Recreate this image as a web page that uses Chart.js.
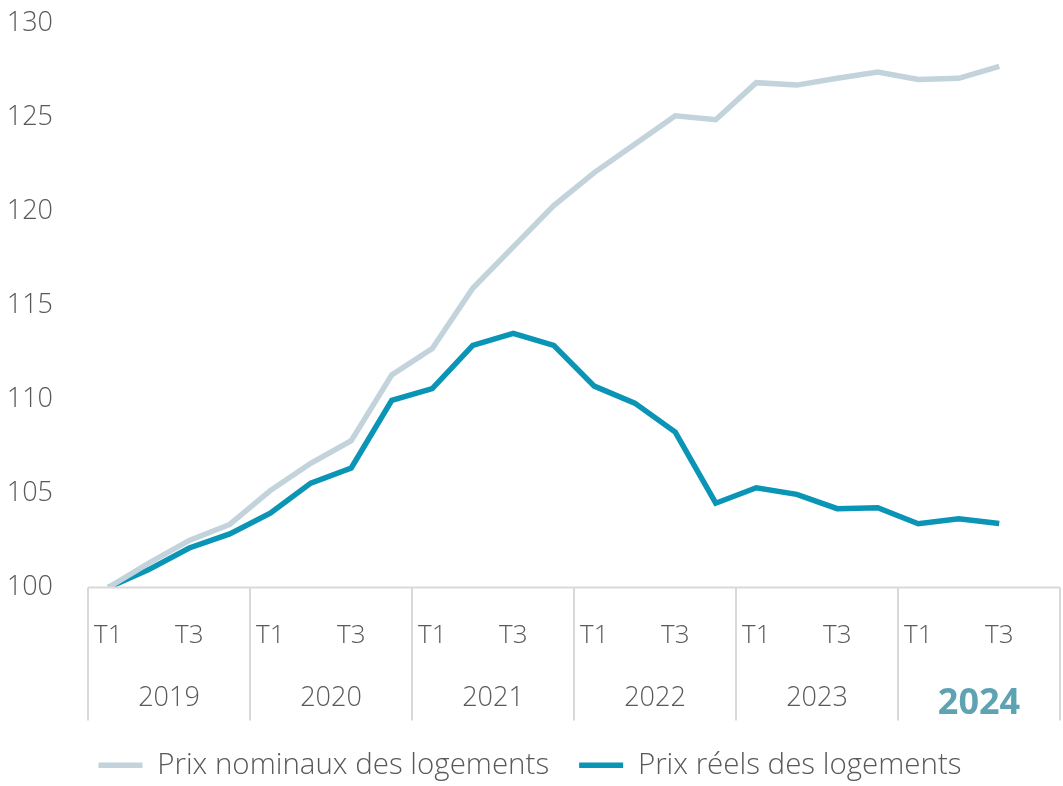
<!DOCTYPE html>
<html>
<head>
<meta charset="utf-8">
<script src="https://cdn.jsdelivr.net/npm/chart.js@4"></script>
<style>
  html, body { margin: 0; padding: 0; background: #fff; }
  #wrap { width: 1063px; height: 786px; }
</style>
</head>
<body>
<div id="wrap"><canvas id="chart"></canvas></div>
<script>
const quarters = ["T1","T2","T3","T4","T1","T2","T3","T4","T1","T2","T3","T4",
                  "T1","T2","T3","T4","T1","T2","T3","T4","T1","T2","T3","T4"];
const years = ["2019","2020","2021","2022","2023","2024"];
const nominal = [100, 101.3, 102.5, 103.35, 105.15, 106.6, 107.8, 111.3,
                 112.7, 115.9, 118.1, 120.3, 122.05, 123.55, 125.07, 124.86,
                 126.83, 126.7, 127.06, 127.4, 127.0, 127.06, 127.7, null];
const reel = [100, 100.95, 102.1, 102.85, 103.95, 105.55, 106.35, 109.95,
              110.57, 112.87, 113.5, 112.87, 110.7, 109.8, 108.26, 104.48,
              105.3, 104.95, 104.19, 104.24, 103.39, 103.65, 103.4, null];
const yTicks = [100, 105, 110, 115, 120, 125, 130];

const grey = "#595959";
const fam = "'Open Sans', sans-serif";

// vertical separators between the year groups + axis line
const separators = {
  id: "separators",
  afterDraw(chart) {
    const x = chart.scales.x, x2 = chart.scales.x2;
    const ctx = chart.ctx;
    const n = years.length;
    ctx.save();
    ctx.strokeStyle = "#d9d9d9";
    ctx.lineWidth = 2;
    ctx.beginPath();
    for (let k = 0; k <= n; k++) {
      const px = Math.round(x.left + k * (x.right - x.left) / n);
      ctx.moveTo(px, x.top);
      ctx.lineTo(px, x2.bottom);
    }
    ctx.moveTo(x.left, x.top);
    ctx.lineTo(x.right, x.top);
    ctx.stroke();
    ctx.restore();
  }
};

new Chart(document.getElementById("chart"), {
  type: "line",
  data: {
    labels: quarters,
    datasets: [
      { label: "Prix nominaux des logements", data: nominal,
        borderColor: "#c3d3dc", backgroundColor: "#c3d3dc",
        borderWidth: 5.5, pointRadius: 0, tension: 0 },
      { label: "Prix réels des logements", data: reel,
        borderColor: "#0a94b5", backgroundColor: "#0a94b5",
        borderWidth: 5.5, pointRadius: 0, tension: 0 }
    ]
  },
  options: {
    responsive: true,
    maintainAspectRatio: false,
    animation: false,
    layout: { padding: { top: 23, right: 3, left: 0, bottom: -4 } },
    plugins: {
      tooltip: { enabled: false },
      legend: {
        position: "bottom",
        labels: {
          usePointStyle: true,
          pointStyle: "line",
          pointStyleWidth: 44,
          color: grey,
          font: { family: fam, size: 29.5, weight: "300" },
          padding: 30
        }
      }
    },
    scales: {
      x: {
        offset: true,
        grid: { display: false, drawTicks: false },
        border: { display: false },
        ticks: {
          autoSkip: false,
          maxRotation: 0,
          padding: 32,
          color: grey,
          font: { family: fam, size: 26, weight: "300" },
          callback: (v, i) => (i % 4 === 0 || i % 4 === 2) ? quarters[i] : null
        },
        afterFit: s => { s.paddingLeft = 0; s.paddingRight = 0; s.height = 95; }
      },
      x2: {
        type: "category",
        labels: years,
        position: "bottom",
        offset: true,
        grid: { display: false, drawTicks: false },
        border: { display: false },
        ticks: {
          padding: 0,
          maxRotation: 0,
          color: ctx => ctx.index === years.length - 1 ? "#5fa3b3" : grey,
          font: ctx => ctx.index === years.length - 1
            ? { family: fam, size: 36, weight: "bold" }
            : { family: fam, size: 27, weight: "300" }
        },
        afterFit: s => { s.paddingLeft = 0; s.paddingRight = 0; s.height = 38; }
      },
      y: {
        min: 100,
        max: 130,
        afterBuildTicks: s => { s.ticks = yTicks.map(v => ({ value: v })); },
        grid: { display: false, drawTicks: false },
        border: { display: false },
        ticks: { padding: 35, color: grey, font: { family: fam, size: 27, weight: "300" } },
        afterFit: s => { s.width = 88; s.paddingTop = 0; s.paddingBottom = 0; }
      }
    }
  },
  plugins: [separators]
});
</script>
</body>
</html>
